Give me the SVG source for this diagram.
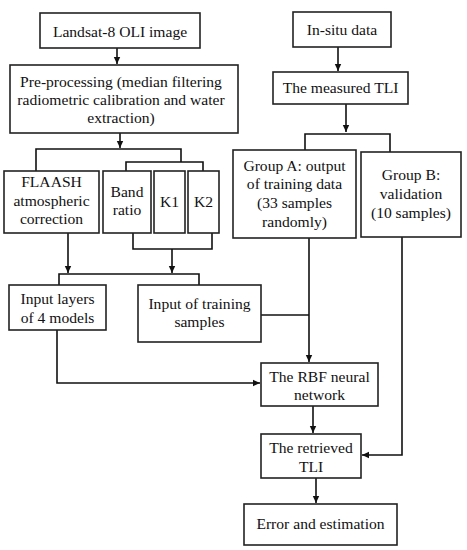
<svg xmlns="http://www.w3.org/2000/svg" width="467" height="550" viewBox="0 0 467 550">
<style>
.b{fill:#fff;stroke:#222;stroke-width:1.6}
.t{font-family:"Liberation Serif","DejaVu Serif",serif;font-size:15.6px;fill:#111;text-anchor:middle}
.c{fill:none;stroke:#111;stroke-width:1.6}
</style>
<defs>
<marker id="a" markerWidth="8" markerHeight="8" refX="7" refY="4" orient="auto" markerUnits="userSpaceOnUse">
<path d="M0,0.8 L7,4 L0,7.2 Z" fill="#111"/>
</marker>
</defs>
<rect width="467" height="550" fill="#fff"/>
<g id="connectors">
<path class="c" d="M117,48 V64" marker-end="url(#a)"/>
<path class="c" d="M120,133 V148" marker-end="url(#a)"/>
<path class="c" d="M36,171 V149 H181 V162"/>
<path class="c" d="M126,171 V162 H203 V171"/>
<path class="c" d="M133,233 V249 H212 V233"/>
<path class="c" d="M172,249 V273" marker-end="url(#a)"/>
<path class="c" d="M68,233 V273" marker-end="url(#a)"/>
<path class="c" d="M59,285 V274 H199 V285"/>
<path class="c" d="M57,330 V383 H260" marker-end="url(#a)"/>
<path class="c" d="M261,315 H309"/>
<path class="c" d="M309,238 V362" marker-end="url(#a)"/>
<path class="c" d="M338,47 V71" marker-end="url(#a)"/>
<path class="c" d="M346,104 V132" marker-end="url(#a)"/>
<path class="c" d="M305,150 V134 H390 V152"/>
<path class="c" d="M402,237 V455 H362" marker-end="url(#a)"/>
<path class="c" d="M313,406 V433" marker-end="url(#a)"/>
<path class="c" d="M316,478 V503" marker-end="url(#a)"/>
</g>
<g id="landsat"><rect class="b" x="40" y="13" width="160" height="35"/><text class="t" x="120" y="37">Landsat-8 OLI image</text></g>
<g id="preprocessing"><rect class="b" x="10" y="65" width="228" height="68"/>
<text class="t" x="121" y="87">Pre-processing (median filtering</text>
<text class="t" x="121" y="105">radiometric calibration and water</text>
<text class="t" x="121" y="123">extraction)</text></g>
<g id="flaash"><rect class="b" x="4" y="171" width="95" height="62"/>
<text class="t" x="51.5" y="187">FLAASH</text>
<text class="t" x="51.5" y="206">atmospheric</text>
<text class="t" x="51.5" y="224">correction</text></g>
<g id="bandratio"><rect class="b" x="103" y="171" width="48" height="62"/>
<text class="t" x="127" y="197">Band</text>
<text class="t" x="127" y="215">ratio</text></g>
<g id="k1"><rect class="b" x="154" y="171" width="31" height="62"/><text class="t" x="169.5" y="207">K1</text></g>
<g id="k2"><rect class="b" x="188" y="171" width="31" height="62"/><text class="t" x="203.5" y="207">K2</text></g>
<g id="inputlayers"><rect class="b" x="9" y="285" width="97" height="45"/>
<text class="t" x="57.5" y="304">Input layers</text>
<text class="t" x="57.5" y="323">of 4 models</text></g>
<g id="inputtraining"><rect class="b" x="138" y="285" width="123" height="57"/>
<text class="t" x="199.5" y="309">Input of training</text>
<text class="t" x="199.5" y="327">samples</text></g>
<g id="insitu"><rect class="b" x="293" y="12" width="98" height="35"/><text class="t" x="342" y="35">In-situ data</text></g>
<g id="measured"><rect class="b" x="273" y="72" width="135" height="32"/><text class="t" x="340.5" y="93">The measured TLI</text></g>
<g id="groupa"><rect class="b" x="233" y="150" width="123" height="88"/>
<text class="t" x="294.5" y="171">Group A: output</text>
<text class="t" x="294.5" y="189">of training data</text>
<text class="t" x="294.5" y="208">(33 samples</text>
<text class="t" x="294.5" y="227">randomly)</text></g>
<g id="groupb"><rect class="b" x="361" y="152" width="100" height="85"/>
<text class="t" x="411" y="180">Group B:</text>
<text class="t" x="411" y="199">validation</text>
<text class="t" x="411" y="218">(10 samples)</text></g>
<g id="rbf"><rect class="b" x="261" y="363" width="117" height="43"/>
<text class="t" x="319.5" y="382">The RBF neural</text>
<text class="t" x="319.5" y="400">network</text></g>
<g id="retrieved"><rect class="b" x="261" y="434" width="100" height="44"/>
<text class="t" x="311" y="453">The retrieved</text>
<text class="t" x="311" y="472">TLI</text></g>
<g id="error"><rect class="b" x="244" y="504" width="153" height="41"/><text class="t" x="320.5" y="529">Error and estimation</text></g>
</svg>
